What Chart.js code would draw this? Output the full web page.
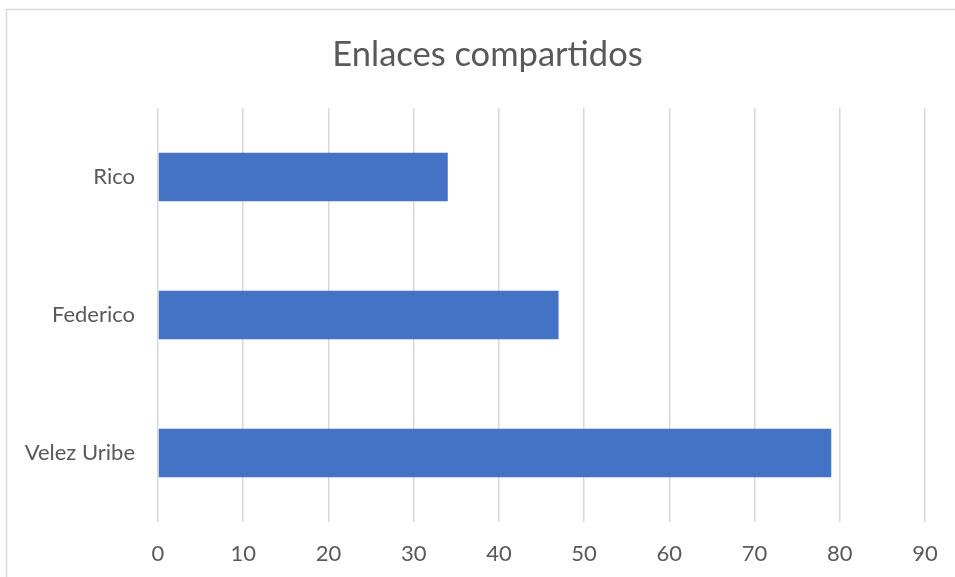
<!DOCTYPE html>
<html>
<head>
<meta charset="utf-8">
<script src="https://cdn.jsdelivr.net/npm/chart.js@4/dist/chart.umd.min.js"></script>
<style>
  html, body { margin: 0; padding: 0; background: #fff; overflow: hidden; }
  #wrap { position: relative; width: 955px; height: 577px; }
</style>
</head>
<body>
<div id="wrap"><canvas id="chart"></canvas></div>
<script>
const names = ["Rico", "Federico", "Velez Uribe"];
const links = [34, 47, 79];
const xTicks = [0, 10, 20, 30, 40, 50, 60, 70, 80, 90];

const FONT = "Lato, 'Open Sans', sans-serif";
const GREY_TEXT = "#595959";
const GRID = "#d9d9d9";

// thin frame around the chart area, open to the right and bottom
const frame = {
  id: "frame",
  beforeDraw(chart) {
    const ctx = chart.ctx;
    ctx.save();
    ctx.fillStyle = "#fff";
    ctx.fillRect(0, 0, chart.width, chart.height);
    ctx.strokeStyle = GRID;
    ctx.lineWidth = 1.5;
    ctx.strokeRect(6.5, 9.5, chart.width + 20, chart.height + 20);
    ctx.restore();
  },
};

new Chart(document.getElementById("chart"), {
  type: "bar",
  plugins: [frame],
  data: {
    labels: names,
    datasets: [
      {
        label: "Enlaces compartidos",
        data: links,
        backgroundColor: "#4472c4",
        borderWidth: 0,
        categoryPercentage: 1,
        barPercentage: 0.35,
      },
    ],
  },
  options: {
    indexAxis: "y",
    animation: false,
    responsive: true,
    maintainAspectRatio: false,
    layout: { padding: { left: 20, right: 0, top: 0, bottom: 0 } },
    plugins: {
      legend: { display: false },
      tooltip: { enabled: false },
      title: {
        display: true,
        text: "Enlaces compartidos",
        color: GREY_TEXT,
        font: { family: FONT, size: 34.5, weight: "normal" },
        padding: { top: 34, bottom: 32.6 },
      },
    },
    scales: {
      x: {
        min: 0,
        max: 90,
        afterBuildTicks: (axis) => {
          axis.ticks = xTicks.map((v) => ({ value: v }));
        },
        afterFit: (axis) => {
          axis.height = 55;
          axis.paddingRight = 30; // keeps the plot clear of the right edge
        },
        grid: { color: GRID, lineWidth: 1.5, drawTicks: false },
        border: { display: false },
        ticks: {
          color: GREY_TEXT,
          padding: 19,
          font: { family: FONT, size: 22 },
        },
      },
      y: {
        afterFit: (axis) => {
          axis.width = 138;
        },
        grid: { display: false },
        border: { display: false },
        ticks: {
          color: GREY_TEXT,
          padding: 15,
          font: { family: FONT, size: 22 },
        },
      },
    },
  },
});
</script>
</body>
</html>
